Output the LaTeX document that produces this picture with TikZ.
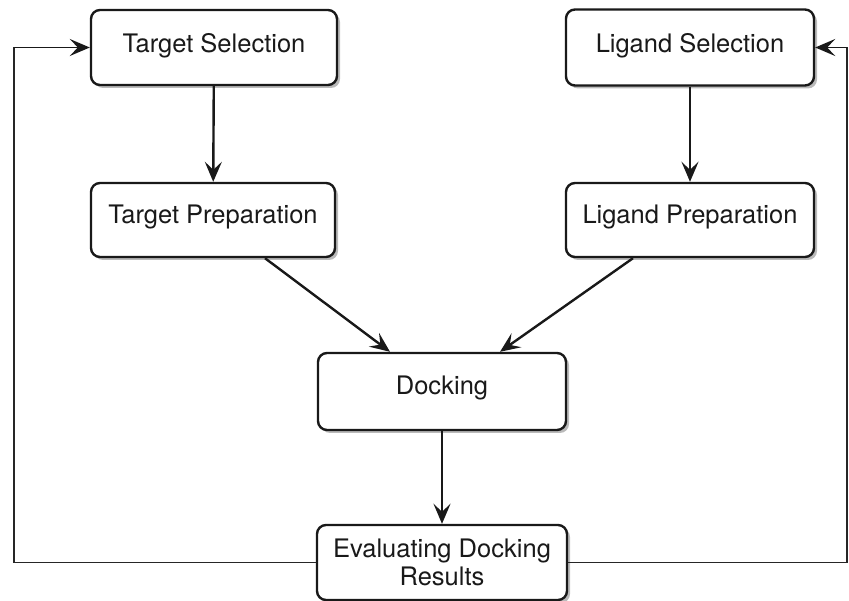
\documentclass[tikz,border=0pt]{standalone}
\usepackage{fontspec}
\setmainfont{TeX Gyre Heros}
\usetikzlibrary{arrows.meta,shadows,calc}
\begin{document}
\begin{tikzpicture}[x=1pt,y=-1pt,
  box/.style={draw=black!90, line width=2.4pt, rounded corners=9pt, fill=white,
    drop shadow={shadow xshift=3pt, shadow yshift=-3pt, opacity=0.45, fill=black!60},
    font=\fontsize{25.5}{29}\selectfont, text=black!90, inner sep=0pt},
  arr/.style={draw=black!90, line width=2.4pt, -{Stealth[length=20pt,width=17pt,inset=8pt]}},
  loop/.style={draw=black!85, line width=1.9pt}]
\useasboundingbox (0,0) rectangle (849,601);
\node[box, minimum width=246pt, minimum height=75pt] (TS) at (214,47.5) {\raisebox{10pt}{Target Selection}};
\node[box, minimum width=248pt, minimum height=76pt] (LS) at (690,47.5) {\raisebox{10pt}{Ligand Selection}};
\node[box, minimum width=244pt, minimum height=74pt] (TP) at (213,220) {\raisebox{12pt}{Target Preparation}};
\node[box, minimum width=248pt, minimum height=74pt] (LP) at (690,220) {\raisebox{12pt}{Ligand Preparation}};
\node[box, minimum width=248pt, minimum height=77pt] (D) at (442,391.5) {\raisebox{12pt}{Docking}};
\node[box, minimum width=250pt, minimum height=75pt, align=center] (E) at (442,562.5) {Evaluating Docking\\[-1pt]Results};
\coordinate (L1) at (14,562.5);
\coordinate (L2) at (14,47.5);
\coordinate (R1) at (847,562.5);
\coordinate (R2) at (847,47.5);
\draw[arr] (TS) -- (TP);
\draw[arr] (LS) -- (LP);
\draw[arr] ([xshift=52pt]TP.south) -- ([xshift=-52pt]D.north);
\draw[arr] ([xshift=-57pt]LP.south) -- ([xshift=58pt]D.north);
\draw[arr] (D) -- (E);
\draw[loop] (E.west) -- (L1) -- (L2);
\draw[arr, line width=1.9pt] (L2) -- (TS.west);
\draw[loop] (E.east) -- (R1) -- (R2);
\draw[arr, line width=1.9pt] (R2) -- (LS.east);
\end{tikzpicture}
\end{document}
